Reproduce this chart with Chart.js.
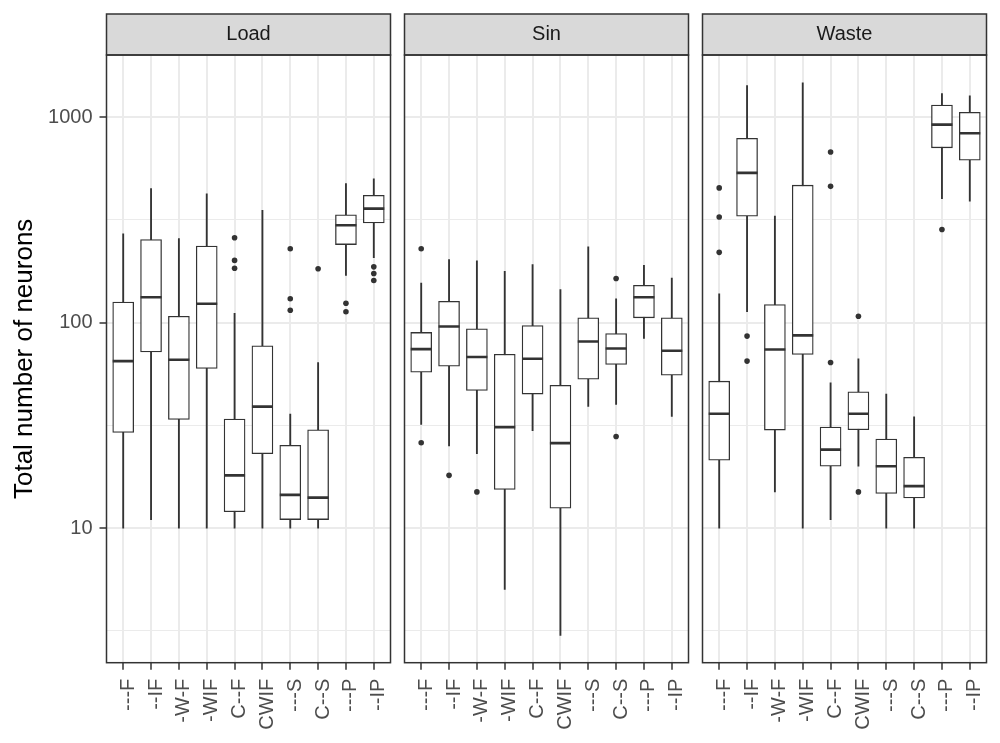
<!DOCTYPE html>
<html>
<head>
<meta charset="utf-8">
<script src="https://cdn.jsdelivr.net/npm/chart.js@4.4.1/dist/chart.umd.min.js"></script>
<style>
  body { margin: 0; background: #fff; }
  #wrap { position: relative; width: 1000px; height: 743px; }
  canvas { position: absolute; top: 0; }
</style>
</head>
<body>
<div id="wrap">
  <canvas id="c0" width="396" height="743" style="left:0px"></canvas>
  <canvas id="c1" width="300" height="743" style="left:394px"></canvas>
  <canvas id="c2" width="300" height="743" style="left:692px"></canvas>
</div>
<script>
const cats = ['---F', '--IF', '-W-F', '-WIF', 'C--F', 'CWIF', '---S', 'C--S', '---P', '--IP'];
const yTicks = [3.1623, 10, 31.623, 100, 316.23, 1000];
const yLabels = [10, 100, 1000];

// Load
const loadLo  = [10, 11, 10, 10, 10, 10, 10, 10, 170, 207];
const loadQ1  = [29.2, 72, 33.8, 59.8, 12.0, 23.0, 11.0, 11.0, 240, 306];
const loadMed = [65, 133, 66, 123.6, 18.05, 39, 14.5, 14.06, 298, 359];
const loadQ3  = [126, 254, 107.5, 236, 33.9, 77.2, 25.3, 30.1, 335, 417];
const loadHi  = [271, 450, 257, 424, 111, 352, 35.9, 64, 476, 501];
const loadOut = [[], [], [], [], [259, 201, 184], [], [229, 130.7, 115], [183], [124.4, 113], [187, 173.6, 160.5]];

// Sin
const sinLo  = [32, 25.1, 23, 5.03, 29.8, 3.0, 39.1, 40, 83.8, 35];
const sinQ1  = [57.4, 61.4, 46.8, 15.4, 44.9, 12.5, 53.1, 62.6, 105.6, 55.5];
const sinMed = [74.3, 95.8, 68, 31, 66.7, 25.9, 81, 74.9, 133, 73];
const sinQ3  = [89.6, 127, 93.4, 70.2, 96.9, 49.5, 105.6, 88.6, 152, 105.6];
const sinHi  = [156, 203, 200, 178, 192, 145, 234, 130.7, 190, 165];
const sinOut = [[229, 26], [18.05], [15.0], [], [], [], [], [164, 27.9], [], []];

// Waste
const wasteLo  = [10, 113, 15, 10, 11, 20, 10, 10, 402, 390];
const wasteQ1  = [21.4, 330, 30, 70, 20, 30.1, 14.75, 14, 710, 618];
const wasteMed = [36, 536, 74, 86.7, 24.1, 36, 20, 16, 921, 836];
const wasteQ3  = [51.9, 790, 122.6, 467, 31, 46.1, 27.1, 22.1, 1148, 1057];
const wasteHi  = [138, 1426, 330, 1470, 51, 66.7, 44.9, 34.8, 1303, 1271];
const wasteOut = [[453, 327, 220], [86, 65], [], [], [678, 461, 64], [107.5, 15], [], [], [284], []];

Chart.defaults.font.family = '"Liberation Sans", Arial, sans-serif';
Chart.defaults.animation = false;

const STRIP_TOP = 14;
const INK = '#333333';

const framePlugin = {
  id: 'frame',
  beforeDraw(chart) {
    const a = chart.chartArea, c = chart.ctx;
    c.save();
    c.fillStyle = '#D9D9D9';
    c.fillRect(a.left, STRIP_TOP, a.right - a.left, a.top - STRIP_TOP);
    c.restore();
  },
  afterDraw(chart) {
    const a = chart.chartArea, c = chart.ctx;
    c.save();
    c.strokeStyle = INK;
    c.lineWidth = 1.5;
    c.strokeRect(a.left, a.top, a.right - a.left, a.bottom - a.top);
    c.strokeRect(a.left, STRIP_TOP, a.right - a.left, a.top - STRIP_TOP);
    c.restore();
  }
};

function makeChart(id, name, lo, q1, med, q3, hi, out, first) {
  const isMajor = v => yLabels.some(m => Math.abs(m - v) < 1e-6);
  return new Chart(document.getElementById(id), {
    type: 'bar',
    data: {
      datasets: [
        {
          type: 'scatter',
          data: out.flatMap((arr, i) => arr.map(v => ({x: i, y: v}))),
          pointStyle: 'circle',
          radius: 2.8,
          backgroundColor: INK,
          borderWidth: 0,
          order: 0
        },
        {
          type: 'scatter',
          data: med.map((m, i) => ({x: i, y: m})),
          pointStyle: 'line',
          radius: 10.5,
          borderWidth: 2.6,
          borderColor: INK,
          order: 1
        },
        {
          type: 'bar',
          data: cats.map((c, i) => ({x: i, y: [q1[i], q3[i]]})),
          backgroundColor: '#ffffff',
          borderColor: INK,
          borderWidth: 1.3,
          borderSkipped: false,
          barThickness: 21,
          grouped: false,
          order: 2
        },
        {
          type: 'bar',
          data: cats.map((c, i) => ({x: i, y: [lo[i], hi[i]]})),
          backgroundColor: INK,
          barThickness: 1.2,
          grouped: false,
          order: 3
        }
      ]
    },
    options: {
      responsive: false,
      devicePixelRatio: 1,
      layout: {
        autoPadding: false,
        padding: { top: STRIP_TOP, left: 0, right: 5.5, bottom: 0 }
      },
      plugins: {
        legend: { display: false },
        tooltip: { enabled: false },
        title: {
          display: true,
          text: name,
          fullSize: false,
          color: '#1A1A1A',
          font: { size: 20, weight: 'normal' },
          padding: { top: 8.5, bottom: 8.5 }
        }
      },
      scales: {
        x: {
          type: 'linear',
          min: -0.6,
          max: 9.6,
          offset: false,
          afterBuildTicks: s => { s.ticks = cats.map((c, i) => ({value: i})); },
          afterFit: s => {
            s.height = 80.3;
            s.paddingLeft = 0;
            s.paddingRight = 0;
          },
          ticks: {
            autoSkip: false,
            minRotation: 90,
            maxRotation: 90,
            padding: 9,
            labelOffset: 5,
            color: '#4D4D4D',
            font: { size: 20 },
            callback: v => cats[v]
          },
          grid: {
            offset: false,
            color: '#EBEBEB',
            lineWidth: 2,
            tickColor: INK,
            tickLength: 7,
            tickWidth: 1.5
          },
          border: { display: false }
        },
        y: {
          type: 'logarithmic',
          min: 2.21,
          max: 2010,
          afterBuildTicks: s => { s.ticks = yTicks.map(v => ({value: v})); },
          afterFit: s => { s.width = first ? 106.5 : 10.5; },
          ticks: {
            display: first,
            padding: 7,
            color: '#4D4D4D',
            font: { size: 20 },
            callback: v => isMajor(v) ? String(Math.round(v)) : ''
          },
          grid: {
            color: '#EBEBEB',
            lineWidth: ctx => (ctx.tick && isMajor(ctx.tick.value)) ? 2 : 1,
            drawTicks: first,
            tickColor: ctx => (ctx.tick && isMajor(ctx.tick.value)) ? INK : 'rgba(0,0,0,0)',
            tickLength: 7,
            tickWidth: 1.5
          },
          border: { display: false },
          title: {
            display: first,
            text: 'Total number of neurons',
            color: '#000000',
            font: { size: 26 },
            padding: { top: 9, bottom: 0 }
          }
        }
      }
    },
    plugins: [framePlugin]
  });
}

makeChart('c0', 'Load', loadLo, loadQ1, loadMed, loadQ3, loadHi, loadOut, true);
makeChart('c1', 'Sin', sinLo, sinQ1, sinMed, sinQ3, sinHi, sinOut, false);
makeChart('c2', 'Waste', wasteLo, wasteQ1, wasteMed, wasteQ3, wasteHi, wasteOut, false);
</script>
</body>
</html>
